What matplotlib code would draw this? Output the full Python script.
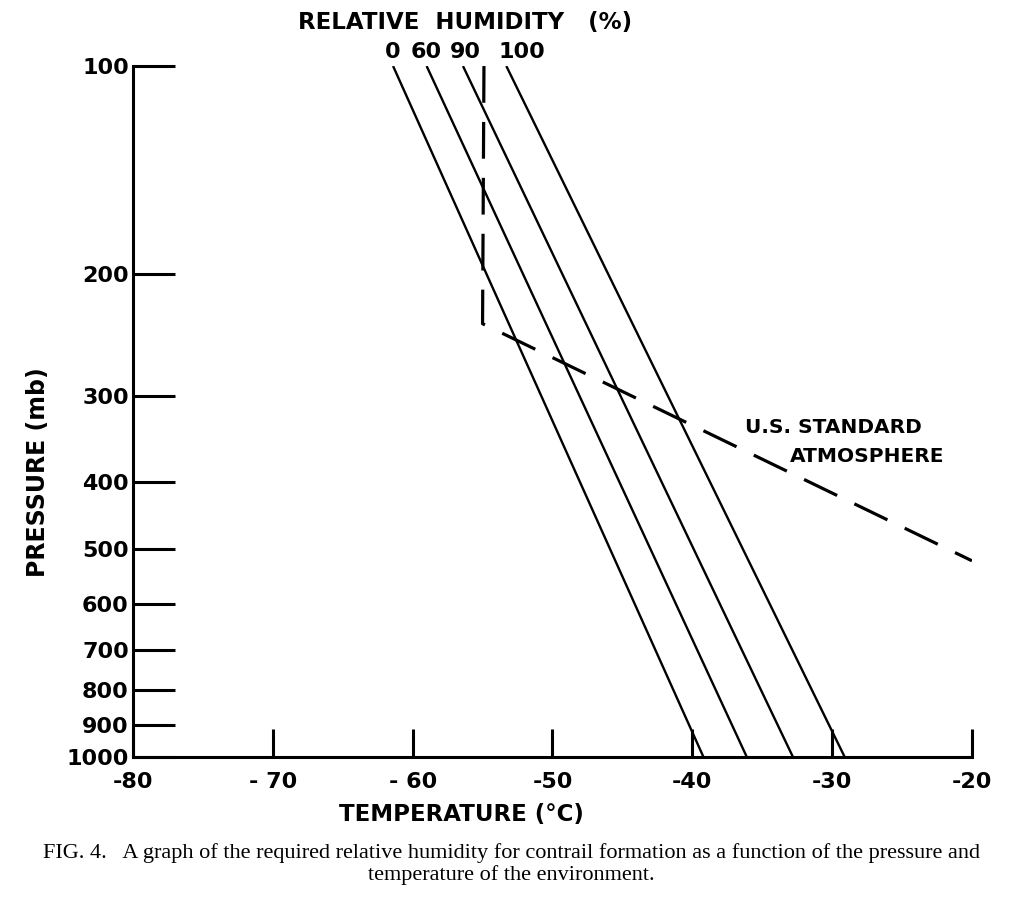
import matplotlib
matplotlib.use("Agg")
import matplotlib.pyplot as plt

# Valori
rh_labels = ["0", "60", "90", "100"]
t_top = [-61.4, -59.0, -56.4, -53.3]      # temperatura a 100 mb
t_bottom = [-39.2, -36.1, -32.8, -29.1]   # temperatura a 1000 mb
p_ends = [100, 1000]

std_t = [-54.9, -55.0, -20.0]
std_p = [100, 236, 520]

x_ticks = [-80, -70, -60, -50, -40, -30, -20]
y_ticks = [100, 200, 300, 400, 500, 600, 700, 800, 900, 1000]

W, H = 1023, 901
plt.rcParams["font.family"] = ["DejaVu Sans"]
fig = plt.figure(figsize=(W / 100, H / 100), dpi=100)
ax = fig.add_axes([0.1300, 0.1598, 0.8201, 0.7669])

for tt, tb in zip(t_top, t_bottom):
    ax.plot([tt, tb], p_ends, color="black", lw=1.7, solid_capstyle="butt")

ax.plot(std_t, std_p, color="black", lw=2.3, dashes=(11.5, 6.0))

ax.set_yscale("log")
ax.set_xlim(-80, -20)
ax.set_ylim(1000, 100)
ax.set_yticks(y_ticks)
ax.set_yticklabels([str(v) for v in y_ticks])
ax.yaxis.set_minor_locator(matplotlib.ticker.NullLocator())
ax.set_xticks(x_ticks)
ax.set_xticklabels([str(v).replace("-", "- ") if v in (-70, -60) else str(v) for v in x_ticks])

for s in ["top", "right"]:
    ax.spines[s].set_visible(False)
for s in ["left", "bottom"]:
    ax.spines[s].set_linewidth(2.2)

ax.tick_params(axis="y", direction="in", length=30, width=2.2, pad=3,
               labelsize=16)
ax.tick_params(axis="x", direction="in", length=20, width=2.2, pad=11,
               labelsize=16)
for lab in ax.get_xticklabels() + ax.get_yticklabels():
    lab.set_fontweight("bold")

ax.set_xlabel("TEMPERATURE (°C)", fontsize=16.5, fontweight="bold")
ax.xaxis.set_label_coords(0.392, -0.067)
ax.set_ylabel("PRESSURE (mb)", fontsize=17, fontweight="bold")
ax.yaxis.set_label_coords(-0.099, 0.412)

# etichette umidità relativa sopra il grafico
fig.text(465 / W, 1 - 22 / H, "RELATIVE  HUMIDITY   (%)", ha="center",
         va="center", fontsize=16.5, fontweight="bold")
for lab, tt in zip(rh_labels, t_top):
    dx = {"90": 2, "100": 11}.get(lab, 0)
    ax.annotate(lab, xy=(tt, 100), xytext=(dx, 10),
                textcoords="offset points", ha="center", va="center",
                fontsize=16, fontweight="bold")

fig.text(745 / W, 1 - 428 / H, "U.S. STANDARD", fontsize=14.5,
         fontweight="bold", ha="left", va="center")
fig.text(790 / W, 1 - 457 / H, "ATMOSPHERE", fontsize=14.5,
         fontweight="bold", ha="left", va="center")

fig.text(0.5, 1 - 853 / H,
         "FIG. 4.   A graph of the required relative humidity for contrail formation as a function of the pressure and",
         ha="center", va="center", fontsize=16, family="Liberation Serif")
fig.text(0.5, 1 - 875 / H, "temperature of the environment.",
         ha="center", va="center", fontsize=16, family="Liberation Serif")

fig.savefig("out.png", dpi=100)
